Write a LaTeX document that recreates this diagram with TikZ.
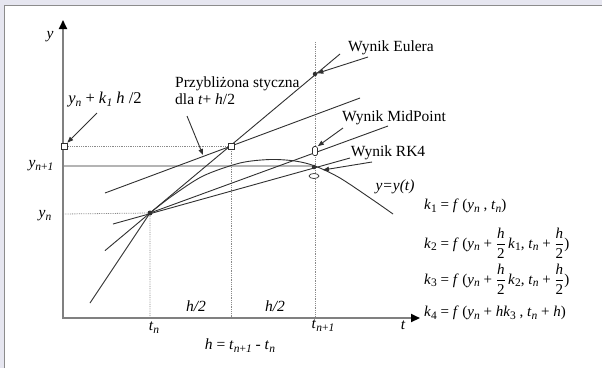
\documentclass[tikz,border=0pt]{standalone}
\usepackage{fontspec}
\setmainfont{Liberation Serif}
\usepackage{tikz}
\usetikzlibrary{arrows.meta,positioning,calc,shapes.geometric}
\definecolor{Frame}{HTML}{E6E6F0}
\definecolor{Edge}{HTML}{8C8C8C}
\definecolor{Axis}{HTML}{808080}
\definecolor{Guide}{HTML}{8A8A8A}
\definecolor{Level}{HTML}{B4B4B4}
\definecolor{Ink}{HTML}{303030}
\newcommand{\sub}[1]{\raisebox{-0.4ex}{\fontsize{11.5}{12}\selectfont #1}}
\newcommand{\half}{$\displaystyle\frac{\mbox{\itshape h}}{\mbox{2}}$}
\tikzset{
  lbl/.style={font=\fontsize{15.5}{18}\selectfont, inner sep=1pt},
  eqn/.style={font=\fontsize{15}{17}\selectfont, anchor=west, inner sep=0pt},
  guide/.style={Guide, densely dotted, line width=0.8pt},
  tang/.style={Ink, line width=0.9pt},
  ptr/.style={Ink, line width=0.9pt, -{Triangle[length=6pt,width=4.5pt]}},
  axis/.style={Axis, line width=2pt, -{Triangle[length=9pt,width=8pt,color=black]}},
  hollow/.style={draw=Ink, fill=white, line width=0.7pt, inner sep=0pt},
  blob/.style={circle, fill=Ink, inner sep=0pt, minimum size=5pt},
}

\begin{document}
\begin{tikzpicture}[x=1pt,y=-1pt]
  \useasboundingbox (0,0) rectangle (602,368);
  % frame
  \fill[Frame] (0,0) rectangle (602,368);
  \fill[white] (4,5) rectangle (602,368);
  \draw[Edge,line width=1.2pt] (4.6,368) -- (4.6,5.6) -- (602,5.6);

  % points of the step
  \coordinate (P) at (150,213);   % (t_n, y_n)
  \coordinate (M) at (231,146);   % y_n + k_1 h/2
  \coordinate (E) at (315,74);    % Euler
  \coordinate (Q) at (315,151);   % MidPoint
  \coordinate (R) at (314,167);   % RK4
  \coordinate (T) at (314,176);

  % guides
  \draw[guide] (63,146) -- (M) -- (231,318);
  \draw[guide] (63,214) -- (P) -- (150,318);
  \draw[guide] (315,42) -- (315,318);
  \draw[Level,line width=2pt] (63,166) -- (315,166);

  % axes
  \draw[axis] (63,319) -- (63,20);
  \draw[axis] (62,318) -- (420,318);

  % slopes
  \draw[tang] (105,250.6) -- (340,54);
  \draw[tang] (105,193) -- (360,98);
  \draw[tang] (P) -- (388,126);
  \draw[tang] (113,224) -- (350,158);

  % y = y(t)
  \draw[tang] (90,303) -- (P);
  \draw[tang] plot[smooth] coordinates {(150,213) (172,196) (203,176) (240,163) (270,159.5) (295,161) (315,166) (340,178) (373,200) (393,214)};

  % markers
  \node[blob] (pn) at (P) {};
  \node[blob, minimum size=4.5pt] (eu) at (E) {};
  \node[blob, minimum size=4.5pt] (rk) at (R) {};
  \node[hollow, ellipse, minimum width=10pt, minimum height=5pt] (ex) at (T) {};
  \node[hollow, rounded corners=1.5pt, minimum width=5pt, minimum height=9pt] (mp) at (Q) {};
  \node[hollow, minimum size=6pt] (sqm) at (M) {};
  \node[hollow, minimum size=6pt] (sqy) at (64,146) {};

  % axis labels
  \node[lbl] (ylab) at (50,37) {\itshape y};
  \node[lbl] (tlab) at (403,325) {\itshape t};
  \node[lbl] (yn1) at (41,166) {\textit{y}\sub{\textit{n}+\textit{1}}};
  \node[lbl] (yn) at (45,216) {\textit{y}\sub{\textit{n}}};
  \node[lbl] (tn) at (154,328) {\textit{t}\sub{\textit{n}}};
  \node[lbl] (tn1) at (323,326) {\textit{t}\sub{\textit{n}+\textit{1}}};
  \node[lbl] (h1) at (196,306) {\itshape h/2};
  \node[lbl] (h2) at (275,306) {\itshape h/2};
  \node[lbl] (hdef) at (240,346) {\textit{h} = \textit{t}\sub{\textit{n}+\textit{1}} - \textit{t}\sub{\textit{n}}};

  % descriptions
  \node[lbl] (kh) at (105,100) {\fontsize{16.5}{18}\selectfont\textit{y}\sub{\textit{n}} + \textit{k}\sub{\textit{1}} \textit{h} /2};
  \node[lbl, anchor=west, align=left] (styk) at (174,91) {Przybliżona styczna\\[-1pt]dla \textit{t}+ \textit{h}/2};
  \node[lbl] (weu) at (391,48) {Wynik Eulera};
  \node[lbl] (wmp) at (394,118) {Wynik MidPoint};
  \node[lbl] (wrk) at (388,153) {Wynik RK4};
  \node[lbl] (ycur) at (395,187) {\itshape y=y(t)};

  \draw[ptr] (97,113) -- (sqy.north east);
  \draw[ptr] (187,116) -- (203,155);
  \draw[ptr] (368,57) -- (eu);
  \draw[ptr] (343,128) -- (mp.north east);
  \draw[ptr] (372,162) -- (323,170);

  % RK4 stages
  \node[eqn] (k1) at (424,206) {\textit{k}\sub{1} = \textit{f} (\textit{y}\sub{\textit{n}} , \textit{t}\sub{\textit{n}})};
  \node[eqn] (k2) at (424,243) {\textit{k}\sub{2} = \textit{f} (\textit{y}\sub{\textit{n}} + \half\,\textit{k}\sub{1}, \textit{t}\sub{\textit{n}} + \half)};
  \node[eqn] (k3) at (424,279) {\textit{k}\sub{3} = \textit{f} (\textit{y}\sub{\textit{n}} + \half\,\textit{k}\sub{2}, \textit{t}\sub{\textit{n}} + \half)};
  \node[eqn] (k4) at (424,313) {\textit{k}\sub{4} = \textit{f} (\textit{y}\sub{\textit{n}} + \textit{hk}\sub{3} , \textit{t}\sub{\textit{n}} + \textit{h})};
\end{tikzpicture}
\end{document}
